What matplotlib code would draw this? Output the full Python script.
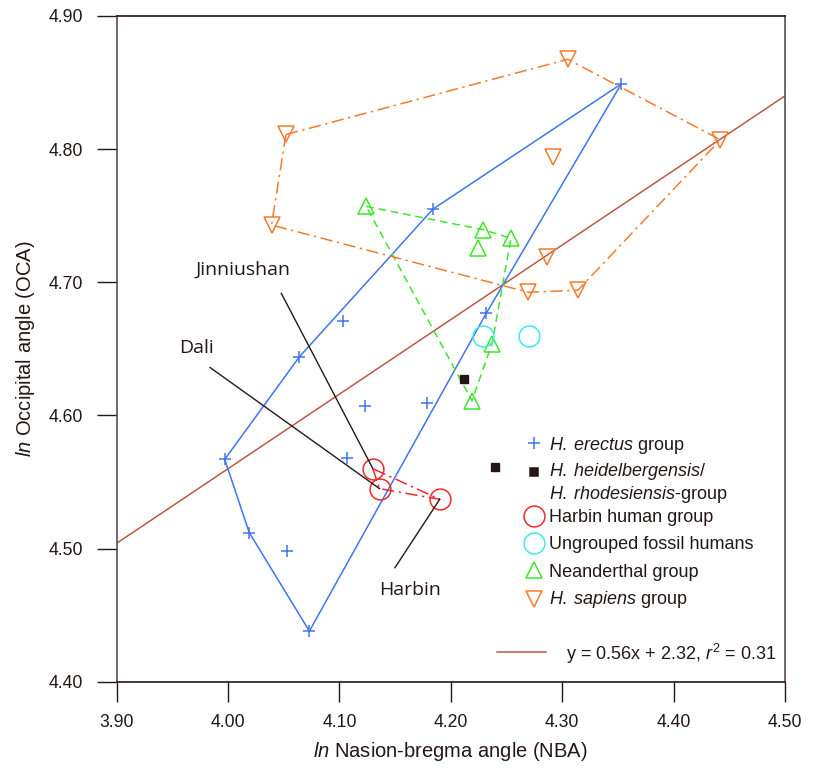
import numpy as np
import matplotlib
matplotlib.use("Agg")
import matplotlib.pyplot as plt

plt.rcParams['font.family'] = ['Liberation Sans', 'DejaVu Sans']
plt.rcParams['mathtext.fontset'] = 'custom'
plt.rcParams['mathtext.rm'] = 'Liberation Sans'
plt.rcParams['mathtext.it'] = 'Liberation Sans:italic'

# H. erectus group (ln NBA, ln OCA)
erectus_x = [3.997, 4.064, 4.103, 4.184, 4.353, 4.232, 4.123, 4.179, 4.107, 4.019, 4.053, 4.073]
erectus_y = [4.567, 4.644, 4.671, 4.755, 4.849, 4.677, 4.607, 4.609, 4.568, 4.512, 4.498, 4.438]
# Umriss der erectus-Gruppe
erectus_hull_x = [3.997, 4.064, 4.184, 4.353, 4.232, 4.073, 4.019, 3.997]
erectus_hull_y = [4.567, 4.644, 4.755, 4.849, 4.677, 4.438, 4.512, 4.567]

# H. heidelbergensis / rhodesiensis
heid_x = [4.212, 4.240]
heid_y = [4.627, 4.561]

# Harbin-Gruppe (Jinniushan, Dali, Harbin)
harbin_x = [4.130, 4.136, 4.190]
harbin_y = [4.560, 4.545, 4.537]

# ungruppierte Fossilien
ungrouped_x = [4.2285, 4.270]
ungrouped_y = [4.660, 4.660]

# Neandertaler
nean_x = [4.124, 4.229, 4.254, 4.224, 4.237, 4.219]
nean_y = [4.757, 4.7395, 4.733, 4.726, 4.654, 4.611]
nean_hull_x = [4.124, 4.229, 4.254, 4.237, 4.219, 4.124]
nean_hull_y = [4.757, 4.7395, 4.733, 4.654, 4.611, 4.757]

# H. sapiens
sap_x = [4.052, 4.305, 4.442, 4.292, 4.286, 4.2695, 4.314, 4.039]
sap_y = [4.811, 4.8675, 4.807, 4.794, 4.719, 4.6925, 4.694, 4.743]
sap_hull_x = [4.052, 4.305, 4.442, 4.314, 4.2695, 4.039, 4.052]
sap_hull_y = [4.811, 4.8675, 4.807, 4.694, 4.6925, 4.743, 4.811]

# Regression
slope, intercept = 0.56, 2.32
reg_x = np.array([3.90, 4.50])

# Beschriftungen: Name, Textposition (Grundlinie), Linienstart
labels = ['Jinniushan', 'Dali', 'Harbin']
label_pos = [(4.0138, 4.7055), (3.9718, 4.6467), (4.1633, 4.4651)]
line_start = [(4.0478, 4.6917), (3.9838, 4.636), (4.1498, 4.4856)]

c_blue = '#3D76EE'
c_green = '#3DE629'
c_orange = '#F77A2C'
c_red = '#EE2A2A'
c_cyan = '#3BEBEB'
c_reg = '#BC5A40'
c_text = '#231815'
c_spine = '#5A4E4A'

fig = plt.figure(figsize=(8.16, 7.69), dpi=100)
ax = fig.add_axes([0.143, 0.1135, 0.819, 0.8657])

ax.plot(reg_x, slope * reg_x + intercept, color=c_reg, lw=1.1, zorder=1)

ax.plot(erectus_hull_x, erectus_hull_y, color=c_blue, lw=1.1, zorder=2)
ax.plot(erectus_x, erectus_y, '+', color=c_blue, ms=9, mew=1.1, zorder=3)

ax.plot(nean_hull_x, nean_hull_y, color=c_green, lw=1.1, ls=(0, (5, 3.2)), zorder=2)
ax.plot(nean_x, nean_y, '^', color=c_green, mfc='none', ms=11, mew=1.1, zorder=3)

ax.plot(sap_hull_x, sap_hull_y, color=c_orange, lw=1.1, ls=(0, (8, 3, 1.5, 3)), zorder=2)
ax.plot(sap_x, sap_y, 'v', color=c_orange, mfc='none', ms=11, mew=1.1, zorder=3)

ax.plot(harbin_x + harbin_x[:1], harbin_y + harbin_y[:1], color=c_red, lw=1.1,
        ls=(0, (8, 3, 1.5, 3)), zorder=2)
ax.plot(harbin_x, harbin_y, 'o', color=c_red, mfc='none', ms=15, mew=1.1, zorder=3)

ax.plot(ungrouped_x, ungrouped_y, 'o', color=c_cyan, mfc='none', ms=15, mew=1.1, zorder=3)
ax.plot(heid_x, heid_y, 's', color=c_text, ms=6, zorder=3)

# Namensbeschriftungen mit Linien
for name, tp, ls_, px, py in zip(labels, label_pos, line_start, harbin_x, harbin_y):
    ax.plot([ls_[0], px], [ls_[1], py], color=c_text, lw=1.0, zorder=4)
    ax.text(tp[0], tp[1], name, ha='center', va='baseline', fontsize=14,
            family=['Open Sans', 'DejaVu Sans'], color=c_text)

ax.set_xlim(3.90, 4.50)
ax.set_ylim(4.40, 4.90)
ax.set_xticks(np.arange(3.90, 4.51, 0.10))
ax.set_yticks(np.arange(4.40, 4.91, 0.10))
ax.set_xticklabels([f'{v:.2f}' for v in np.arange(3.90, 4.51, 0.10)])
ax.set_yticklabels([f'{v:.2f}' for v in np.arange(4.40, 4.91, 0.10)])
ax.tick_params(direction='out', length=14.4, width=1.0, color=c_text,
               labelsize=12.7, labelcolor=c_text)
ax.tick_params(axis='y', pad=10)
ax.tick_params(axis='x', pad=9)
for s in ax.spines.values():
    s.set_color(c_spine)
    s.set_linewidth(1.2)
ax.spines['top'].set_color(c_text)
ax.spines['bottom'].set_color(c_text)

ax.set_xlabel('$\\it{ln}$ Nasion-bregma angle (NBA)', fontsize=14.5, color=c_text, labelpad=6)
ax.set_ylabel('$\\it{ln}$ Occipital angle (OCA)', fontsize=14.5, color=c_text, labelpad=8)

# Legende von Hand (Achsenkoordinaten), damit der Zweizeiler sitzt
leg_marker = [('+', c_blue, 'full', 9), ('s', c_text, 'full', 6), ('o', c_red, 'none', 15),
              ('o', c_cyan, 'none', 15), ('^', c_green, 'none', 11), ('v', c_orange, 'none', 11)]
leg_marker_y = [0.3580, 0.3150, 0.2494, 0.2079, 0.1678, 0.1238]
leg_text = ['$\\it{H.\\:erectus}$ group', '$\\it{H.\\:heidelbergensis/}$',
            '$\\it{H.\\:rhodesiensis}$-group', 'Harbin human group',
            'Ungrouped fossil humans', 'Neanderthal group', '$\\it{H.\\:sapiens}$ group']
leg_text_y = [0.3480, 0.3090, 0.2744, 0.2403, 0.1989, 0.1577, 0.1167]
leg_mx, leg_tx = 0.6244, 0.6469

for (m, c, fill, size), y in zip(leg_marker, leg_marker_y):
    ax.plot([leg_mx], [y], m, color=c, mfc=c if fill == 'full' else 'none', ms=size,
            mew=1.1, transform=ax.transAxes, clip_on=False)
for t, y in zip(leg_text, leg_text_y):
    ax.text(leg_tx, y, t, fontsize=13, color=c_text, va='baseline', transform=ax.transAxes)

ax.plot([0.5698, 0.6431], [0.0451, 0.0451], color=c_reg, lw=1.1, transform=ax.transAxes)
ax.text(0.6716, 0.0326, 'y = 0.56x + 2.32, $\\it{r}^2$ = 0.31', fontsize=13, color=c_text,
        va='baseline', transform=ax.transAxes)

fig.savefig('out.png', dpi=100)
